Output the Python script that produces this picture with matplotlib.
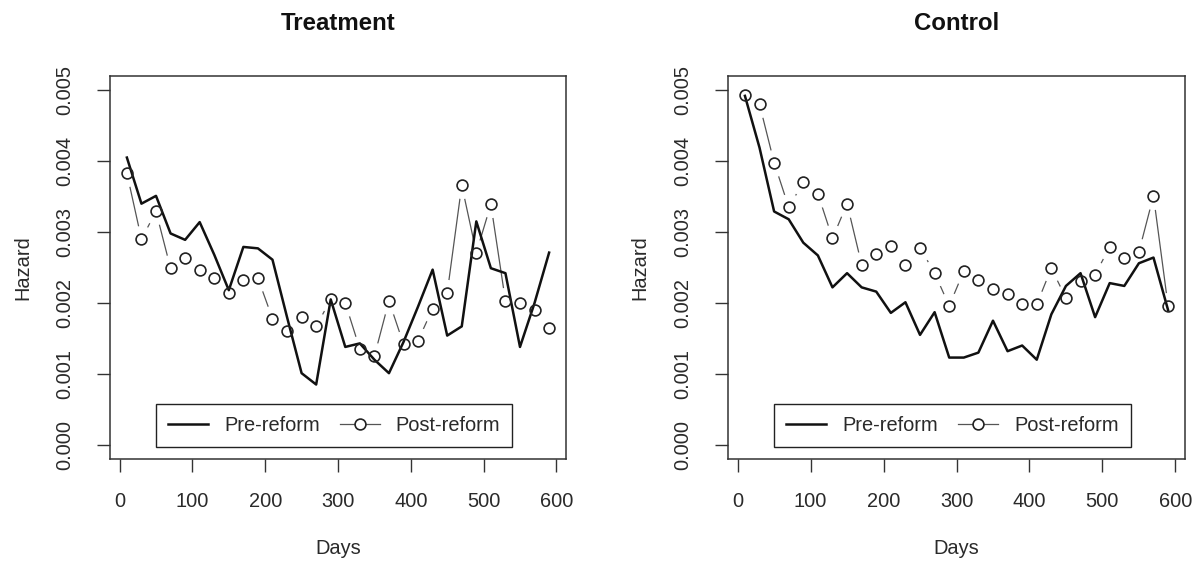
import matplotlib
matplotlib.use("Agg")
import matplotlib.pyplot as plt
from matplotlib.lines import Line2D
from matplotlib.ticker import FormatStrFormatter

plt.rcParams['font.family'] = ['Liberation Sans', 'DejaVu Sans']

days = [10, 30, 50, 70, 90, 110, 130, 150, 170, 190, 210, 230, 250, 270, 290,
        310, 330, 350, 370, 390, 410, 430, 450, 470, 490, 510, 530, 550, 570, 590]

treat_pre = [0.00405, 0.00340, 0.00351, 0.00298, 0.00289, 0.00314, 0.00268, 0.00218,
             0.00279, 0.00277, 0.00261, 0.00180, 0.00101, 0.00085, 0.00205, 0.00138,
             0.00143, 0.00120, 0.00101, 0.00145, 0.00195, 0.00247, 0.00154, 0.00167,
             0.00315, 0.00249, 0.00242, 0.00138, 0.00200, 0.00271]
treat_post = [0.00383, 0.00290, 0.00329, 0.00249, 0.00263, 0.00246, 0.00235, 0.00214,
              0.00232, 0.00235, 0.00178, 0.00160, 0.00180, 0.00167, 0.00205, 0.00200,
              0.00135, 0.00125, 0.00203, 0.00142, 0.00147, 0.00192, 0.00214, 0.00366,
              0.00271, 0.00339, 0.00203, 0.00200, 0.00190, 0.00165]

ctrl_pre = [0.00492, 0.00419, 0.00329, 0.00318, 0.00285, 0.00267, 0.00222, 0.00242,
            0.00222, 0.00216, 0.00186, 0.00201, 0.00155, 0.00187, 0.00123, 0.00123,
            0.00130, 0.00175, 0.00132, 0.00140, 0.00120, 0.00184, 0.00224, 0.00242,
            0.00180, 0.00228, 0.00224, 0.00256, 0.00264, 0.00190]
ctrl_post = [0.00493, 0.00480, 0.00398, 0.00335, 0.00370, 0.00354, 0.00291, 0.00340,
             0.00254, 0.00269, 0.00280, 0.00253, 0.00278, 0.00242, 0.00196, 0.00245,
             0.00233, 0.00219, 0.00213, 0.00199, 0.00198, 0.00249, 0.00207, 0.00231,
             0.00240, 0.00279, 0.00264, 0.00272, 0.00351, 0.00196]

titles = ["Treatment", "Control"]
x_ticks = [0, 100, 200, 300, 400, 500, 600]
y_ticks = [0.000, 0.001, 0.002, 0.003, 0.004, 0.005]
legend_labels = ["Pre-reform", "Post-reform"]

W, H = 1195, 563
fig = plt.figure(figsize=(W / 100, H / 100), dpi=100)
fig.patch.set_facecolor("white")

boxes = [(110, 76, 566, 459), (728, 76, 1185, 459)]
ylabel_x = [22.5, 640]
series = [(treat_pre, treat_post), (ctrl_pre, ctrl_post)]

FS = 14.4
TXT = "#2a2a2a"
EDGE = "#333333"

for (l, t, r, b), (pre, post), title, ylx in zip(boxes, series, titles, ylabel_x):
    ax = fig.add_axes([l / W, 1 - b / H, (r - l) / W, (b - t) / H])
    ax.set_xlim(-13.2, 613.2)
    ax.set_ylim(-0.0002, 0.0052)

    # post-reform connecting line with gaps (R type="b")
    ax.plot(days, post, color="#555555", lw=0.9, zorder=2)
    ax.plot(days, post, ls="none", marker="o", ms=18.5, mfc="white", mec="white",
            zorder=2.1)
    # pre-reform line
    ax.plot(days, pre, color="#111111", lw=1.8, zorder=3)
    # post-reform circles
    ax.plot(days, post, ls="none", marker="o", ms=7.8, mfc="none", mec="#222222",
            mew=1.2, zorder=4)

    ax.set_xticks(x_ticks)
    ax.set_yticks(y_ticks)
    ax.yaxis.set_major_formatter(FormatStrFormatter("%.3f"))
    ax.tick_params(axis="both", direction="out", length=9.5, width=1.0,
                   color=EDGE, labelsize=FS, labelcolor=TXT)
    ax.tick_params(axis="x", pad=14)
    ax.tick_params(axis="y", pad=16)
    for lab in ax.get_yticklabels():
        lab.set_rotation(90)
        lab.set_va("center")
    for sp in ax.spines.values():
        sp.set_color(EDGE)
        sp.set_linewidth(1.1)

    ax.set_title(title, fontsize=17.3, fontweight="bold", color="#111111", pad=0,
                 y=(b - 23.5) / (b - t), va="center")
    ax.set_xlabel("Days", fontsize=FS, color=TXT)
    ax.xaxis.set_label_coords(0.5, -(549 - b) / (b - t))
    ax.xaxis.label.set_va("center")
    ax.set_ylabel("Hazard", fontsize=FS, color=TXT)
    ax.yaxis.set_label_coords((ylx - l) / (r - l), 0.5)
    ax.yaxis.label.set_va("center")

    handles = [Line2D([0], [0], color="#111111", lw=1.8),
               Line2D([0], [0], color="#555555", lw=0.9, marker="o", ms=7.8,
                      mfc="white", mec="#222222", mew=1.2)]
    leg = ax.legend(handles, legend_labels, loc="lower left", ncol=2, mode="expand",
                    bbox_to_anchor=(0.101, 0.031, 0.781, 0.139), borderaxespad=0,
                    fontsize=FS, handlelength=2.0, handletextpad=0.8,
                    borderpad=0.6, fancybox=False, framealpha=1, columnspacing=1.0)
    leg.get_frame().set_edgecolor("#222222")
    leg.get_frame().set_linewidth(1.0)
    for txt in leg.get_texts():
        txt.set_color(TXT)

fig.savefig("out.png", dpi=100, facecolor="white")
